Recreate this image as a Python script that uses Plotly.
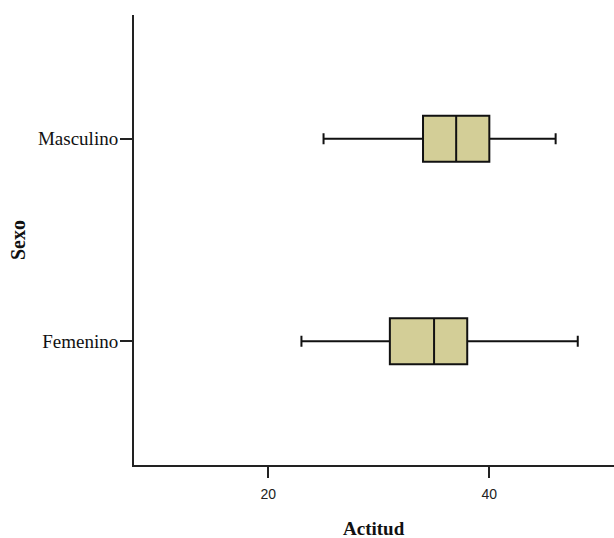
import plotly.graph_objects as go

categories = ["Femenino", "Masculino"]
lower_whisker = [23, 25]
q1_values = [31, 34]
median_values = [35, 37]
q3_values = [38, 40]
upper_whisker = [48, 46]
x_ticks = [20, 40]

fig = go.Figure()
fig.add_trace(go.Box(
    y=categories,
    q1=q1_values,
    median=median_values,
    q3=q3_values,
    lowerfence=lower_whisker,
    upperfence=upper_whisker,
    orientation="h",
    boxpoints=False,
    width=0.227,
    whiskerwidth=0.24,
    fillcolor="#D3CE97",
    line=dict(color="#111111", width=2),
    showlegend=False,
    hoverinfo="skip",
))

fig.update_layout(
    width=614, height=538,
    margin=dict(l=134, r=0, t=15, b=73),
    paper_bgcolor="white",
    plot_bgcolor="white",
    xaxis=dict(
        range=[7.85, 51.28],
        tickvals=x_ticks,
        ticktext=[str(v) for v in x_ticks],
        ticks="outside", ticklen=11, tickwidth=2, tickcolor="#222222",
        ticklabelstandoff=4,
        showline=True, linewidth=2, linecolor="#222222",
        showgrid=False, zeroline=False,
        tickfont=dict(family="Liberation Sans, Arial", size=14, color="#222222"),
    ),
    yaxis=dict(
        type="category",
        categoryorder="array", categoryarray=categories,
        range=[-0.61, 1.61],
        ticks="outside", ticklen=12, tickwidth=2, tickcolor="#222222",
        ticklabelstandoff=-2,
        showline=True, linewidth=2, linecolor="#222222",
        showgrid=False, zeroline=False,
        tickfont=dict(family="Liberation Serif, Times New Roman", size=19, color="#111111"),
    ),
    annotations=[
        dict(text="<b>Actitud</b>", xref="paper", yref="paper", x=0.5, y=0,
             xanchor="center", yanchor="middle",
             yshift=-63, showarrow=False,
             font=dict(family="Liberation Serif, Times New Roman", size=19, color="#111111")),
        dict(text="<b>Sexo</b>", xref="paper", yref="paper", x=0, y=0.5,
             xanchor="center", yanchor="middle",
             xshift=-116, textangle=-90, showarrow=False,
             font=dict(family="Liberation Serif, Times New Roman", size=20, color="#111111")),
    ],
)

fig.write_html("out.html")
